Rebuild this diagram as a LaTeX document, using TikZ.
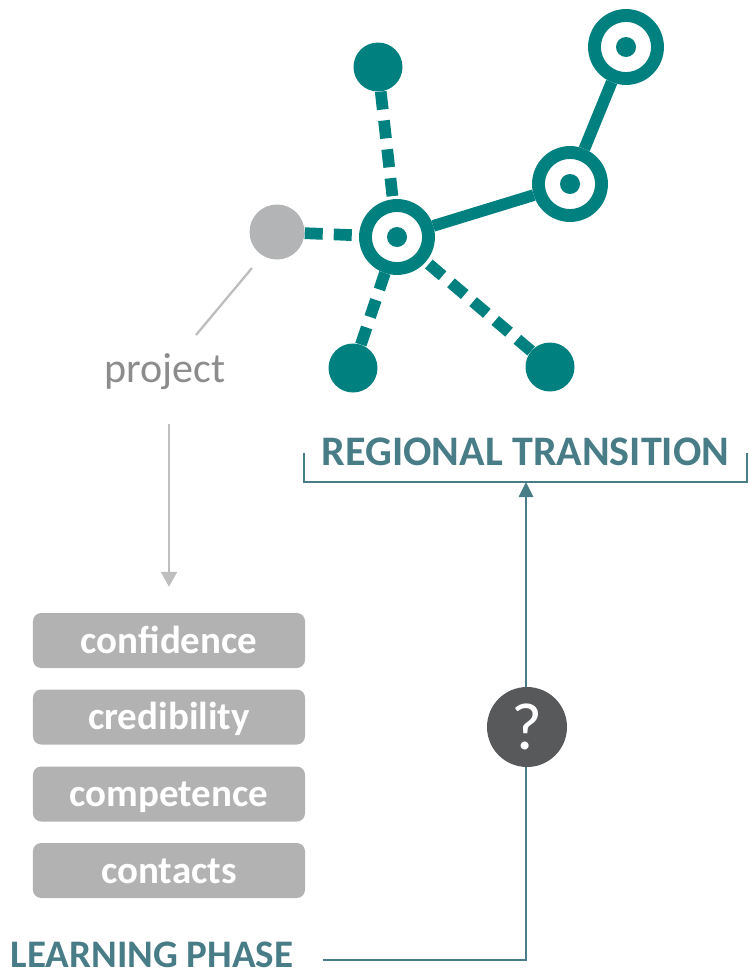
\documentclass[tikz,border=0pt]{standalone}
\usepackage{fontspec}
\setmainfont{Carlito}
\usepackage{xcolor}
\definecolor{HubTeal}{RGB}{0,128,127}
\definecolor{LabelTeal}{RGB}{72,124,134}
\definecolor{ProjectGrey}{RGB}{179,180,182}
\definecolor{BoxGrey}{RGB}{178,178,178}
\definecolor{TextGrey}{RGB}{140,140,140}
\definecolor{LineGrey}{RGB}{190,190,190}
\definecolor{QuestionGrey}{RGB}{88,89,91}
\usepackage{tikz}
\usetikzlibrary{arrows.meta}

\begin{document}
\begin{tikzpicture}[x=0.03cm,y=-0.03cm,
    ring/.style={circle,draw=HubTeal,line width=11pt,fill=white,inner sep=0pt,
        minimum size=1.89cm,
        path picture={\fill[HubTeal] (path picture bounding box.center) circle (0.3cm);}},
    leaf/.style={circle,fill=HubTeal,inner sep=0pt,minimum size=1.47cm},
    link/.style={HubTeal,line width=10pt},
    dashlink/.style={HubTeal,line width=10pt,dash pattern=on 15.4pt off 9.4pt},
    quality/.style={rounded corners=7pt,fill=BoxGrey,text=white,inner sep=0pt,
        minimum width=8.16cm,minimum height=1.65cm,text height=22pt,text depth=0pt,
        font=\bfseries\fontsize{33.3}{36}\selectfont}]
    \useasboundingbox (0,0) rectangle (748,978);

    % network
    \node[ring] (hub) at (397,237) {};
    \node[ring] (mid) at (570,184) {};
    \node[ring] (far) at (626,47) {};
    \node[leaf] (top) at (378,67) {};
    \node[leaf] (lowleft) at (353,368) {};
    \node[leaf] (lowright) at (550,367) {};
    \node[circle,fill=ProjectGrey,inner sep=0pt,minimum size=1.65cm] (proj) at (277,232) {};
    \draw[link] (hub) -- (mid);
    \draw[link] (mid) -- (far);
    \draw[dashlink] (top) -- (hub);
    \draw[dashlink] (lowleft) -- (hub);
    \draw[dashlink] (lowright) -- (hub);
    \draw[dashlink] (proj) -- (hub);

    % project and its qualities
    \node[anchor=base,text=TextGrey,font=\fontsize{35.9}{40}\selectfont] (project) at (165,382) {project};
    \coordinate (tickA) at (196,335);
    \coordinate (tickB) at (252,268);
    \draw[LineGrey,line width=2pt] (tickA) -- (tickB);
    \node[quality] (confidence) at (169,640.5) {confidence};
    \node[quality] (credibility) at (169,717) {credibility};
    \node[quality] (competence) at (169,794) {competence};
    \node[quality] (contacts) at (169,870.5) {contacts};
    \coordinate (projarrow) at (169,424);
    \draw[LineGrey,line width=2.2pt,-{Triangle[length=12.8pt,width=13.6pt]}] (projarrow) -- ([yshift=0.78cm]confidence.north);

    % phases
    \node[text=LabelTeal,font=\bfseries\fontsize{35.9}{40}\selectfont] (regional) at (525.5,452) {REGIONAL TRANSITION};
    \coordinate (braceL) at (304,453);
    \coordinate (braceR) at (747,453);
    \coordinate (braceM) at (526,482);
    \draw[LabelTeal,line width=2.1pt] (braceL) |- (braceR |- braceM) -- (braceR);
    \node[inner sep=0pt,text=LabelTeal,font=\bfseries\fontsize{33.3}{36}\selectfont] (learning) at (152,955) {LEARNING PHASE};
    \draw[LabelTeal,line width=2.1pt,-{Triangle[length=12.8pt,width=12pt]}] ([xshift=0.87cm,yshift=-0.15cm]learning.east) -| (braceM);
    \node[circle,fill=QuestionGrey,text=white,inner sep=0pt,minimum size=2.4cm,
        font=\fontsize{57}{60}\selectfont] (question) at (527,727) {?};
\end{tikzpicture}
\end{document}
